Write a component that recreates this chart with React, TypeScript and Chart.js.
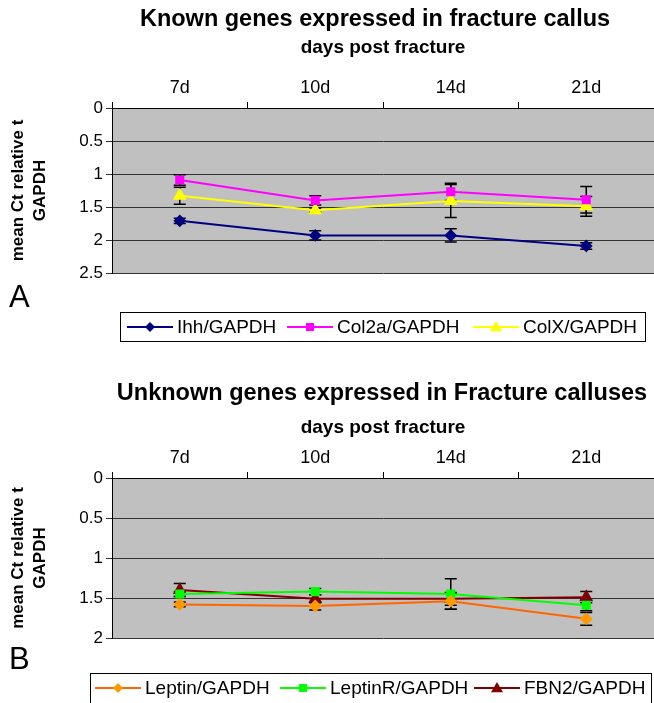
import React, { useEffect, useRef } from 'react';
import { Chart, registerables } from 'chart.js';
Chart.register(...registerables);

const categories = ['7d', '10d', '14d', '21d'];

const ihh = [1.71, 1.93, 1.93, 2.09];
const ihhErr = [0.04, 0.07, 0.1, 0.05];
const col2a = [1.09, 1.4, 1.27, 1.39];
const col2aErr = [0.08, 0.07, 0.13, 0.2];
const colx = [1.33, 1.55, 1.41, 1.49];
const colxErr = [0.13, 0.03, 0.25, 0.15];

const leptin = [1.58, 1.6, 1.54, 1.76];
const leptinErr = [0.03, 0.05, 0.1, 0.08];
const leptinR = [1.45, 1.42, 1.45, 1.59];
const leptinRErr = [0.03, 0.04, 0.19, 0.07];
const fbn2 = [1.4, 1.51, 1.51, 1.49];
const fbn2Err = [0.08, 0.05, 0.08, 0.07];

const titleA = 'Known genes expressed in fracture callus';
const titleB = 'Unknown genes expressed in Fracture calluses';
const xTitle = 'days post fracture';
const yTitle = ['mean Ct relative t', 'GAPDH'];

const FONT = "'Liberation Sans', Arial, sans-serif";

type Series = {
  label: string;
  data: number[];
  err: number[];
  line: string;
  marker: string;
  style: string;
  radius: number;
};

const seriesA: Series[] = [
  { label: 'Ihh/GAPDH', data: ihh, err: ihhErr, line: '#000080', marker: '#000080', style: 'rectRot', radius: 5 },
  { label: 'Col2a/GAPDH', data: col2a, err: col2aErr, line: '#FF00FF', marker: '#FF00FF', style: 'rect', radius: 5 },
  { label: 'ColX/GAPDH', data: colx, err: colxErr, line: '#FFFF00', marker: '#FFFF00', style: 'triangle', radius: 6 },
];
const seriesB: Series[] = [
  { label: 'Leptin/GAPDH', data: leptin, err: leptinErr, line: '#FF6600', marker: '#FF9900', style: 'rectRot', radius: 5 },
  { label: 'LeptinR/GAPDH', data: leptinR, err: leptinRErr, line: '#00FF00', marker: '#00FF00', style: 'rect', radius: 5 },
  { label: 'FBN2/GAPDH', data: fbn2, err: fbn2Err, line: '#800000', marker: '#800000', style: 'triangle', radius: 6 },
];

type Layout = {
  title: string;
  titleX: number;
  titleY: number;
  xTitleY: number;
  letter: string;
  letterY: number;
  yMax: number;
  plotTop: number;
  bottomPad: number;
  legend: { x: number; y: number; w: number; h: number; starts: number[] };
};

function drawMarker(ctx: CanvasRenderingContext2D, style: string, x: number, y: number, color: string) {
  ctx.fillStyle = color;
  ctx.beginPath();
  if (style === 'rectRot') {
    const r = 5;
    ctx.moveTo(x, y - r);
    ctx.lineTo(x + r, y);
    ctx.lineTo(x, y + r);
    ctx.lineTo(x - r, y);
  } else if (style === 'rect') {
    const r = 4;
    ctx.rect(x - r, y - r, 2 * r, 2 * r);
  } else {
    const r = 6;
    ctx.moveTo(x, y - r);
    ctx.lineTo(x + r, y + r * 0.7);
    ctx.lineTo(x - r, y + r * 0.7);
  }
  ctx.closePath();
  ctx.fill();
}

function makeChart(canvas: HTMLCanvasElement, series: Series[], L: Layout) {
  const bgPlugin = {
    id: 'bgPlot',
    beforeDraw(chart: any) {
      const { ctx, chartArea: a } = chart;
      ctx.save();
      ctx.fillStyle = '#C0C0C0';
      ctx.fillRect(a.left, a.top, a.right - a.left, a.bottom - a.top);
      ctx.restore();
    },
  };
  const errPlugin = {
    id: 'errBars',
    beforeDatasetsDraw(chart: any) {
      const { ctx } = chart;
      const ys = chart.scales.y;
      ctx.save();
      ctx.strokeStyle = '#000';
      ctx.lineWidth = 1.5;
      chart.data.datasets.forEach((ds: any, di: number) => {
        const meta = chart.getDatasetMeta(di);
        meta.data.forEach((pt: any, i: number) => {
          const v = ds.data[i];
          const e = ds.errs[i];
          const y1 = ys.getPixelForValue(v - e);
          const y2 = ys.getPixelForValue(v + e);
          const x = pt.x;
          ctx.beginPath();
          ctx.moveTo(x, y1);
          ctx.lineTo(x, y2);
          ctx.moveTo(x - 6, y1);
          ctx.lineTo(x + 6, y1);
          ctx.moveTo(x - 6, y2);
          ctx.lineTo(x + 6, y2);
          ctx.stroke();
        });
      });
      ctx.restore();
    },
  };
  const decoPlugin = {
    id: 'deco',
    afterDraw(chart: any) {
      const { ctx } = chart;
      ctx.save();
      ctx.fillStyle = '#000';
      ctx.font = `bold 23.5px ${FONT}`;
      ctx.textAlign = 'center';
      ctx.textBaseline = 'middle';
      ctx.fillText(L.title, L.titleX, L.titleY);
      ctx.font = `31px ${FONT}`;
      ctx.textAlign = 'left';
      ctx.fillText(L.letter, 9, L.letterY);
      const lg = L.legend;
      ctx.fillStyle = '#fff';
      ctx.fillRect(lg.x, lg.y, lg.w, lg.h);
      ctx.strokeStyle = '#000';
      ctx.lineWidth = 1;
      ctx.strokeRect(lg.x + 0.5, lg.y + 0.5, lg.w, lg.h);
      const cy = lg.y + 15;
      series.forEach((s, i) => {
        const sx = lg.starts[i];
        ctx.strokeStyle = s.line;
        ctx.lineWidth = 2;
        ctx.beginPath();
        ctx.moveTo(sx, cy);
        ctx.lineTo(sx + 46, cy);
        ctx.stroke();
        drawMarker(ctx, s.style, sx + 23, cy, s.marker);
        ctx.fillStyle = '#000';
        ctx.font = `19px ${FONT}`;
        ctx.textAlign = 'left';
        ctx.textBaseline = 'middle';
        ctx.fillText(s.label, sx + 50, cy + 1);
      });
      ctx.restore();
    },
  };

  const yTickVals: number[] = [];
  for (let v = 0; v <= L.yMax + 1e-9; v += 0.5) yTickVals.push(Math.round(v * 10) / 10);

  return new Chart(canvas, {
    type: 'line',
    data: {
      labels: categories,
      datasets: series.map((s) => ({
        label: s.label,
        data: s.data,
        errs: s.err,
        borderColor: s.line,
        backgroundColor: s.marker,
        pointBackgroundColor: s.marker,
        pointBorderColor: s.marker,
        pointStyle: s.style,
        pointRadius: s.radius,
        borderWidth: 2,
        tension: 0,
      })) as any,
    },
    options: {
      animation: false,
      responsive: false,
      devicePixelRatio: 1,
      layout: { autoPadding: false, padding: { left: 0, right: 0, top: 0, bottom: L.bottomPad } },
      plugins: { legend: { display: false }, title: { display: false }, tooltip: { enabled: false } },
      scales: {
        x: {
          position: 'top',
          offset: true,
          grid: { offset: true, drawOnChartArea: false, drawTicks: true, tickLength: 6, color: '#000' },
          border: { display: true, color: '#000', width: 1 },
          ticks: { color: '#000', font: { family: FONT, size: 18 }, padding: 3 },
          title: {
            display: true,
            text: xTitle,
            color: '#000',
            font: { family: FONT, size: 19, weight: 'bold' },
            padding: { top: L.xTitleY - 11.4, bottom: 0 },
          },
          afterFit: (scale: any) => {
            scale.height = L.plotTop;
            scale.paddingLeft = 0;
            scale.paddingRight = 0;
          },
        } as any,
        y: {
          reverse: true,
          min: 0,
          max: L.yMax,
          afterBuildTicks: (scale: any) => {
            scale.ticks = yTickVals.map((v) => ({ value: v }));
          },
          grid: { color: '#333', lineWidth: 1, tickLength: 6, drawTicks: true },
          border: { display: true, color: '#000', width: 1 },
          ticks: {
            color: '#000',
            font: { family: FONT, size: 17 },
            padding: 3,
            callback: (v: any) => String(Math.round(Number(v) * 10) / 10),
          },
          title: {
            display: true,
            text: yTitle,
            color: '#000',
            font: { family: FONT, size: 17, weight: 'bold', lineHeight: 1.3 },
            padding: { top: 7, bottom: 0 },
          },
          afterFit: (scale: any) => {
            scale.width = 112;
            scale.paddingTop = 0;
            scale.paddingBottom = 0;
          },
        } as any,
      },
    },
    plugins: [bgPlugin, errPlugin, decoPlugin],
  });
}

function Panel({ series, layout, height }: { series: Series[]; layout: Layout; height: number }) {
  const ref = useRef<HTMLCanvasElement>(null);
  useEffect(() => {
    if (!ref.current) return;
    const c = makeChart(ref.current, series, layout);
    return () => c.destroy();
  }, []);
  return <canvas ref={ref} width={654} height={height} style={{ display: 'block', width: 654, height }} />;
}

const layoutA: Layout = {
  title: titleA,
  titleX: 375,
  titleY: 20,
  xTitleY: 48,
  letter: 'A',
  letterY: 298,
  yMax: 2.5,
  plotTop: 108,
  bottomPad: 97,
  legend: { x: 120, y: 312, w: 525, h: 29, starts: [127, 287, 473] },
};
const layoutB: Layout = {
  title: titleB,
  titleX: 382,
  titleY: 24,
  xTitleY: 58,
  letter: 'B',
  letterY: 290,
  yMax: 2,
  plotTop: 108,
  bottomPad: 65,
  legend: { x: 90, y: 303, w: 561, h: 32, starts: [95, 280, 474] },
};

export default function App() {
  return (
    <div style={{ position: 'absolute', left: 0, top: 0, width: 654, height: 703, background: '#fff', overflow: 'hidden' }}>
      <Panel series={seriesA} layout={layoutA} height={370} />
      <Panel series={seriesB} layout={layoutB} height={333} />
    </div>
  );
}
